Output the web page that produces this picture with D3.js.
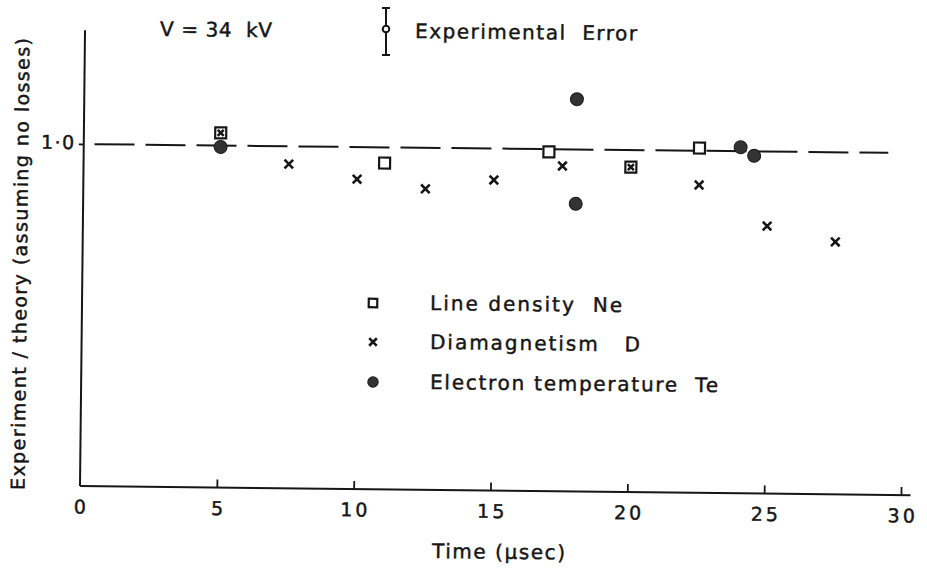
<!DOCTYPE html>
<html>
<head>
<meta charset="utf-8">
<script src="https://cdn.jsdelivr.net/npm/d3@7"></script>
<style>
  html, body { margin: 0; padding: 0; background: #fff; }
  svg { display: block; }
  text { font-family: "DejaVu Sans", sans-serif; fill: #161616; stroke: #161616; stroke-width: 0.45px; }
</style>
</head>
<body>
<svg id="chart" width="927" height="573"></svg>
<script>
// Measured ratios of experiment to theory versus time, V = 34 kV
const timeTicks = [0, 5, 10, 15, 20, 25, 30];

const densityTime  = [5, 11, 17, 20, 22.5];
const densityRatio = [1.037, 0.954, 0.992, 0.950, 1.008];

const diamagTime  = [5, 7.5, 10, 12.5, 15, 17.5, 20, 22.5, 25, 27.5];
const diamagRatio = [1.037, 0.948, 0.906, 0.880, 0.908, 0.951, 0.950, 0.900, 0.782, 0.738];

const tempTime  = [5, 18, 18, 24, 24.5];
const tempRatio = [0.996, 1.147, 0.841, 1.012, 0.987];

const legendLabels = ["Line density  Ne", "Diamagnetism   D", "Electron temperature  Te"];

// plot frame: origin at the axis corner, the whole sheet sits at a slight tilt
const ORIGIN = [80, 486];
const TILT = 0.63;
const rad = TILT * Math.PI / 180;
function local(sx, sy) {
  const dx = sx - ORIGIN[0], dy = sy - ORIGIN[1];
  return [dx * Math.cos(rad) + dy * Math.sin(rad), -dx * Math.sin(rad) + dy * Math.cos(rad)];
}

const x = d3.scaleLinear().domain([0, 30]).range([0, 821]);
const y = d3.scaleLinear().domain([0, 1]).range([0, -342]);

const svg = d3.select("#chart");
const g = svg.append("g")
  .attr("transform", `translate(${ORIGIN[0]},${ORIGIN[1]}) rotate(${TILT})`);

const ink = "#161616";

// x axis with upward ticks
const xAxis = d3.axisBottom(x)
  .tickValues(timeTicks.slice(1))
  .tickSize(-8)
  .tickSizeOuter(0)
  .tickPadding(14)
  .tickFormat(d3.format("d"));
const gx = g.append("g").call(xAxis);
gx.select(".domain").remove();
gx.selectAll(".tick line").attr("stroke", ink).attr("stroke-width", 1.8);
gx.append("g").attr("class", "tick").attr("transform", `translate(${x(0)},0)`)
  .append("text").attr("y", 14).attr("dy", "0.71em").attr("text-anchor", "middle").text("0");
gx.selectAll(".tick text")
  .attr("font-size", 19).attr("fill", ink).attr("letter-spacing", 3)
  .attr("dx", 1.5)
  .style("font-family", "DejaVu Sans");
g.append("line")
  .attr("x1", x(0)).attr("x2", x(30.35)).attr("y1", 0).attr("y2", 0)
  .attr("stroke", ink).attr("stroke-width", 2);

// y axis, single tick at unity
const yTop = 1.333;
g.append("line")
  .attr("x1", 0).attr("x2", 0).attr("y1", 0).attr("y2", y(yTop))
  .attr("stroke", ink).attr("stroke-width", 2);
const yAxis = d3.axisLeft(y).tickValues([1]).tickSize(5).tickSizeOuter(0).tickPadding(3)
  .tickFormat(() => "1·0");
const gy = g.append("g").call(yAxis);
gy.select(".domain").remove();
gy.selectAll(".tick line").attr("stroke", ink).attr("stroke-width", 1.8);
gy.selectAll(".tick text").attr("font-size", 19).attr("fill", ink).attr("letter-spacing", 1.5)
  .attr("dy", "0.25em")
  .style("font-family", "DejaVu Sans");

// unity reference line
g.append("line")
  .attr("x1", x(0.1)).attr("x2", x(29.4)).attr("y1", y(1)).attr("y2", y(1))
  .attr("stroke", ink).attr("stroke-width", 2)
  .attr("stroke-dasharray", "40 11").attr("stroke-dashoffset", -8);

// axis titles
const yl = local(27, 264);
g.append("text")
  .attr("transform", `translate(${yl[0]},${yl[1]}) rotate(-90)`)
  .attr("text-anchor", "middle").attr("font-size", 19)
  .attr("textLength", 452).attr("lengthAdjust", "spacing")
  .text("Experiment / theory (assuming no losses)");
const xl = local(432, 558);
g.append("text").attr("x", xl[0]).attr("y", xl[1])
  .attr("font-size", 20).attr("textLength", 133).attr("lengthAdjust", "spacing")
  .text("Time (µsec)");

// header annotations
const vt = local(160, 36);
g.append("text").attr("x", vt[0]).attr("y", vt[1]).attr("font-size", 20)
  .attr("textLength", 112).attr("lengthAdjust", "spacing")
  .attr("xml:space", "preserve").text("V = 34  kV");

const eb = local(386, 8), ebB = local(386, 55), ebC = local(386, 29);
const errG = g.append("g").attr("stroke", ink).attr("stroke-width", 2);
errG.append("line").attr("x1", eb[0]).attr("x2", ebB[0]).attr("y1", eb[1]).attr("y2", ebB[1]);
errG.append("line").attr("x1", eb[0] - 4).attr("x2", eb[0] + 4).attr("y1", eb[1]).attr("y2", eb[1]);
errG.append("line").attr("x1", ebB[0] - 4).attr("x2", ebB[0] + 4).attr("y1", ebB[1]).attr("y2", ebB[1]);
errG.append("circle").attr("cx", ebC[0]).attr("cy", ebC[1]).attr("r", 3.3).attr("fill", "#fff");
const et = local(415, 38);
g.append("text").attr("x", et[0]).attr("y", et[1]).attr("font-size", 20)
  .attr("textLength", 222).attr("lengthAdjust", "spacing")
  .attr("xml:space", "preserve").text("Experimental  Error");

// marker painters
function drawSquare(sel, size) {
  sel.append("rect").attr("x", -size / 2).attr("y", -size / 2)
    .attr("width", size).attr("height", size)
    .attr("fill", "#fff").attr("stroke", ink).attr("stroke-width", 2.2);
}
function drawCross(sel, half) {
  sel.append("path").attr("d", `M${-half},${-half}L${half},${half}M${-half},${half}L${half},${-half}`)
    .attr("stroke", ink).attr("stroke-width", 2.6).attr("fill", "none");
}
function drawDot(sel, r) {
  sel.append("circle").attr("r", r).attr("fill", "#333").attr("stroke", "#1a1a1a").attr("stroke-width", 1);
}

// data marks
const marks = g.append("g");
tempTime.forEach((t, i) => {
  drawDot(marks.append("g").attr("transform", `translate(${x(t)},${y(tempRatio[i])})`), 6.5);
});
densityTime.forEach((t, i) => {
  drawSquare(marks.append("g").attr("transform", `translate(${x(t)},${y(densityRatio[i])})`), 11);
});
diamagTime.forEach((t, i) => {
  const boxed = densityTime.some((dt, j) => dt === t && densityRatio[j] === diamagRatio[i]);
  drawCross(marks.append("g").attr("transform", `translate(${x(t)},${y(diamagRatio[i])})`), boxed ? 3 : 4.3);
});

// key
const keyRows = [303, 342, 382];
const keyWidths = [192, 210, 288];
const painters = [s => drawSquare(s, 8.5), s => drawCross(s, 3.8), s => drawDot(s, 5.2)];
keyRows.forEach((ry, i) => {
  const p = local(373, ry);
  painters[i](g.append("g").attr("transform", `translate(${p[0]},${p[1]})`));
  const tp = local(430, ry + 7);
  g.append("text").attr("x", tp[0]).attr("y", tp[1]).attr("font-size", 20)
    .attr("textLength", keyWidths[i]).attr("lengthAdjust", "spacing")
    .attr("xml:space", "preserve").text(legendLabels[i]);
});
</script>
</body>
</html>
